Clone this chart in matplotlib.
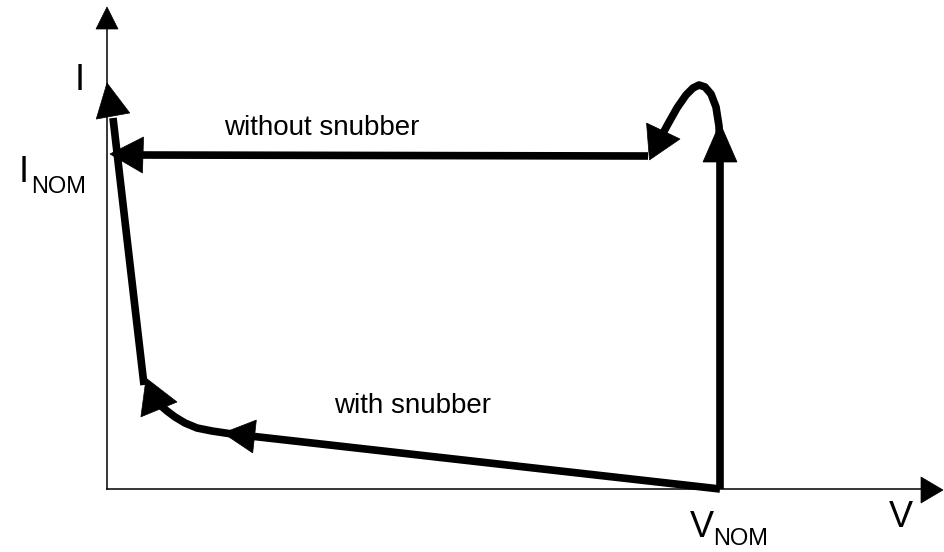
import numpy as np
import matplotlib
matplotlib.use("Agg")
import matplotlib.pyplot as plt
from matplotlib.patches import Polygon

plt.rcParams["font.family"] = ["Liberation Sans", "DejaVu Sans"]

# diagram works in pixel units of the original sketch (x = V, y = I, y grows downward)
origin = (107, 489)
y_axis_tip = (107, 7)
x_axis_tip = (943, 490)

# without snubber: rise at V_NOM, overshoot, then flat current back to the I axis
rise_v = [720, 720]
rise_i = [489, 150]
overshoot_v = [720, 719, 716, 711, 705, 699, 693, 686, 677, 668, 662]
overshoot_i = [150, 126, 107, 94, 87, 85, 88, 95, 108, 124, 135]
flat_v = [648, 135]
flat_i = [156, 155]

# with snubber: slow rise along a sloped line, curve, then steep rise
slope_v = [720, 250]
slope_i = [489, 436]
knee_v = [232, 212, 197, 185, 175, 167, 160]
knee_i = [434, 431, 428, 423, 417, 411, 405]
steep_v = [144, 113]
steep_i = [385, 118]

# arrowheads: (tip, base centre, half width)
heads = [
    (y_axis_tip, (107, 29), 11),
    (x_axis_tip, (921, 490), 13),
    ((720, 123), (720, 162), 17),
    ((680, 139), (648, 141.5), 18.5),
    ((110, 154), (143, 155), 18),
    ((107, 83), (113, 116), 17),
    ((223, 433), (254.5, 436.5), 16.5),
    ((177, 402), (143.5, 397.5), 19.5),
]


def head(ax, tip, base, hw):
    tip = np.array(tip, float)
    base = np.array(base, float)
    d = tip - base
    n = np.array([-d[1], d[0]]) / np.hypot(*d)
    pts = [tip, base + n * hw, base - n * hw]
    ax.add_patch(Polygon(pts, closed=True, facecolor="black", edgecolor="black",
                         linewidth=0.5, zorder=4))


fig = plt.figure(figsize=(9.45, 5.52), dpi=100)
ax = fig.add_axes([0, 0, 1, 1])
ax.set_xlim(0, 945)
ax.set_ylim(552, 0)
ax.set_axis_off()

# axes of the sketch
ax.plot([origin[0], y_axis_tip[0]], [origin[1], 25], color="black", lw=1.1)
ax.plot([origin[0], 925], [origin[1], origin[1]], color="black", lw=1.1)

thick = dict(color="black", lw=5.5, solid_joinstyle="round", solid_capstyle="butt", zorder=3)
for vs, is_ in [(rise_v, rise_i), (overshoot_v, overshoot_i), (flat_v, flat_i),
                (slope_v, slope_i), (knee_v, knee_i), (steep_v, steep_i)]:
    ax.plot(vs, is_, **thick)

for tip, base, hw in heads:
    head(ax, tip, base, hw)

# labels
big, small = 26, 17
ax.text(80, 90, "I", fontsize=big, ha="center", va="baseline")
ax.text(24, 182, "I", fontsize=big, ha="center", va="baseline")
ax.text(31, 193, "NOM", fontsize=small, ha="left", va="baseline")
ax.text(702, 537, "V", fontsize=big, ha="center", va="baseline")
ax.text(713, 545, "NOM", fontsize=small, ha="left", va="baseline")
ax.text(901, 527, "V", fontsize=big, ha="center", va="baseline")
ax.text(224, 135, "without snubber", fontsize=20, ha="left", va="baseline")
ax.text(334, 413, "with snubber", fontsize=20, ha="left", va="baseline")

fig.savefig("out.png", dpi=100)
